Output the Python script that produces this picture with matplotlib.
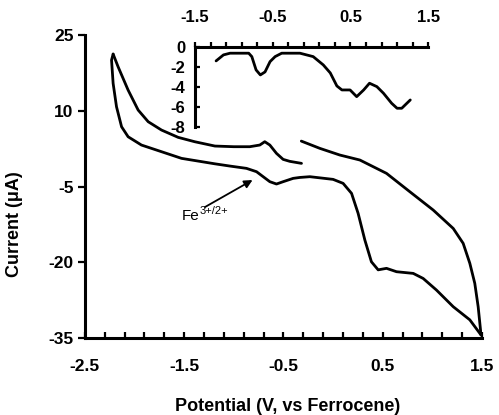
import matplotlib.pyplot as plt
import numpy as np

plt.rcParams['font.family'] = ['Liberation Sans', 'DejaVu Sans']

# main cyclic voltammogram (V vs Fc, uA)
# anodic sweep after the gap, up to the +1.5 V vertex
fwd_v = [-0.32, -0.133, 0.068, 0.27, 0.538, 0.773, 1.008, 1.21, 1.31, 1.377, 1.427, 1.461, 1.49]
fwd_i = [4.0, 2.56, 1.24, 0.25, -2.39, -6.03, -9.65, -13.3, -16.25, -20.2, -24.17, -28.8, -34.4]

# cathodic sweep from +1.5 V down to the -2.2 V vertex
rev_v = [1.49, 1.377, 1.21, 1.041, 0.907, 0.807, 0.639, 0.538, 0.454, 0.386, 0.32, 0.252,
         0.186, 0.101, 0.0, -0.234, -0.335, -0.402, -0.503, -0.570, -0.637, -0.704,
         -0.771, -0.872, -1.04, -1.19, -1.526, -1.728, -1.93, -2.064, -2.13, -2.181,
         -2.215, -2.231, -2.215]
rev_i = [-34.4, -31.4, -28.8, -25.5, -23.2, -22.2, -21.87, -21.2, -21.5, -19.9, -15.6, -10.3,
         -6.35, -4.37, -3.58, -3.05, -3.2, -3.38, -4.04, -4.50, -4.04, -3.05,
         -2.06, -1.40, -0.94, -0.5, 0.58, 1.9, 3.22, 4.86, 6.84, 10.8,
         15.43, 20.05, 21.24]

# return sweep from the -2.2 V vertex to the gap
ret_v = [-2.215, -2.165, -2.064, -1.963, -1.862, -1.728, -1.56, -1.392, -1.19, -1.0, -0.839,
         -0.738, -0.688, -0.637, -0.570, -0.503, -0.436, -0.318]
ret_i = [21.24, 18.72, 14.1, 10.15, 7.84, 6.19, 4.74, 3.87, 3.02, 2.89, 2.89,
         3.22, 3.88, 3.22, 1.57, 0.38, -0.01, -0.41]

# inset trace
ins_v = [-1.23, -1.135, -1.05, -0.81, -0.77, -0.715, -0.66, -0.6, -0.535, -0.47, -0.385,
         -0.15, 0.02, 0.15, 0.24, 0.325, 0.39, 0.495, 0.58, 0.67, 0.745, 0.84, 0.925,
         1.03, 1.1, 1.16, 1.27]
ins_i = [-1.4, -0.8, -0.63, -0.63, -0.97, -2.3, -2.8, -2.5, -1.47, -0.97, -0.63,
         -0.63, -0.97, -1.8, -2.6, -3.9, -4.3, -4.3, -4.97, -4.3, -3.63, -3.97, -4.63,
         -5.63, -6.13, -6.13, -5.3]

fig = plt.figure(figsize=(4.99, 4.15), dpi=100)
ax = fig.add_axes([0.170, 0.1855, 0.796, 0.730])

for v, i in [(fwd_v, fwd_i), (rev_v, rev_i), (ret_v, ret_i)]:
    ax.plot(v, i, color='black', lw=2.0, solid_joinstyle='round', solid_capstyle='round')

ax.set_xlim(-2.5, 1.5)
ax.set_ylim(-35, 25)
ax.set_xticks([-2.5, -1.5, -0.5, 0.5, 1.5])
ax.set_xticks(np.arange(-2.5, 1.51, 0.2), minor=True)
ax.set_yticks([-35, -20, -5, 10, 25])
ax.spines['top'].set_visible(False)
ax.spines['right'].set_visible(False)
for s in ['left', 'bottom']:
    ax.spines[s].set_linewidth(2.2)
ax.tick_params(axis='x', which='both', direction='in', length=4, width=1.6, pad=15)
ax.tick_params(axis='y', which='major', direction='out', length=5, width=1.6, pad=3)
ax.set_xticklabels(['-2.5', '-1.5', '-0.5', '0.5', '1.5'], fontsize=12.5, fontweight='bold')
ax.set_yticklabels(['-35', '-20', '-5', '10', '25'], fontsize=12.5, fontweight='bold')

ax.set_xlabel('Potential (V, vs Ferrocene)', fontsize=13, fontweight='bold')
ax.set_ylabel('Current (\u03bcA)', fontsize=13, fontweight='bold')
ax.xaxis.set_label_coords(0.51, -0.198)
ax.yaxis.set_label_coords(-0.156, 0.376)

# Fe(III/II) label with arrow
ax.annotate('', xy=(-0.811, -3.71), xytext=(-1.29, -9.06),
            arrowprops=dict(arrowstyle='-|>', color='black', lw=1.3,
                            mutation_scale=12, shrinkA=0, shrinkB=0))
fe = ax.text(-1.52, -10.9, 'Fe', fontsize=11, ha='left', va='center')
ax.annotate('3+/2+', xy=(1.0, 0.5), xycoords=fe, fontsize=8, ha='left', va='bottom')

# inset
ins = fig.add_axes([0.391, 0.694, 0.467, 0.193])
ins.plot(ins_v, ins_i, color='black', lw=2.0, solid_joinstyle='round', solid_capstyle='round')
ins.set_xlim(-1.5, 1.5)
ins.set_ylim(-8, 0)
ins.patch.set_alpha(0)
ins.xaxis.tick_top()
ins.set_xticks([-1.5, -0.5, 0.5, 1.5])
ins.set_xticks(np.arange(-1.5, 1.51, 0.2), minor=True)
ins.set_yticks([0, -2, -4, -6, -8])
ins.spines['bottom'].set_visible(False)
ins.spines['right'].set_visible(False)
for s in ['left', 'top']:
    ins.spines[s].set_linewidth(2.2)
ins.tick_params(axis='x', which='both', direction='out', length=3.5, width=1.6, pad=12,
                top=True, bottom=False)
ins.tick_params(axis='y', which='major', direction='in', length=3.5, width=1.6, pad=7)
ins.set_xticklabels(['-1.5', '-0.5', '0.5', '1.5'], fontsize=12, fontweight='bold')
ins.set_yticklabels(['0', '-2', '-4', '-6', '-8'], fontsize=12, fontweight='bold')

fig.savefig('out.png', dpi=100)
